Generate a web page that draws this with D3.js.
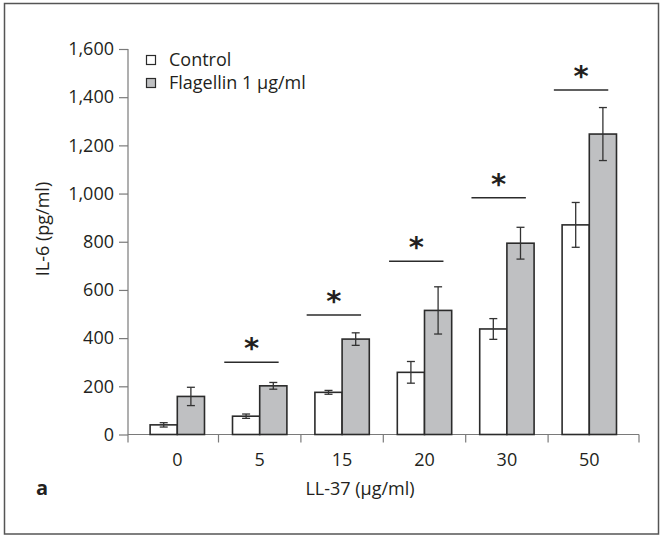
<!DOCTYPE html>
<html>
<head>
<meta charset="utf-8">
<script src="https://cdn.jsdelivr.net/npm/d3@7"></script>
<style>
  html, body { margin: 0; padding: 0; background: #fff; }
  svg { display: block; }
  text { font-family: "Open Sans", sans-serif; fill: #231f20; }
</style>
</head>
<body>
<svg id="chart" width="661" height="536"></svg>
<script>
// LL-37 concentrations (µg/ml) on the x axis
const categories = ["0", "5", "15", "20", "30", "50"];
const seriesNames = ["Control", "Flagellin 1 µg/ml"];

// IL-6 (pg/ml), means and error half-widths
const controlValues = [40, 76, 175, 258, 438, 870];
const controlErrors = [9, 9, 8, 45, 43, 93];
const flagellinValues = [158, 202, 396, 515, 794, 1247];
const flagellinErrors = [38, 14, 26, 98, 66, 110];

// significance markers: category and bracket height (pg/ml)
const sigCategories = ["5", "15", "20", "30", "50"];
const sigLevels = [300, 496, 719, 983, 1430];

const yTicks = [0, 200, 400, 600, 800, 1000, 1200, 1400, 1600];

const svg = d3.select("#chart");
const fontSize = "18px";

// outer frame
svg.append("rect")
  .attr("x", 4.5).attr("y", 3.5)
  .attr("width", 654).attr("height", 530.5)
  .attr("fill", "none").attr("stroke", "#555").attr("stroke-width", 1.5);

const y = d3.scaleLinear().domain([0, 1600]).range([434.5, 49]);
const x = d3.scaleBand().domain(categories).range([136.1, 630.5]).padding(0);
const bw = x.bandwidth();
const xs = d3.scaleBand().domain(seriesNames).range([bw * 0.17, bw * 0.83]).padding(0);

const axisColor = "#7a7a7a";

// y axis
const gy = svg.append("g").attr("transform", "translate(128,0)");
gy.call(d3.axisLeft(y).tickValues(yTicks).tickSize(9).tickSizeOuter(0).tickPadding(5)
  .tickFormat(d3.format(",")));
gy.select(".domain").remove();
gy.selectAll(".tick line").attr("stroke", axisColor).attr("stroke-width", 1.2);
gy.selectAll(".tick text").style("font-size", fontSize).attr("fill", "#231f20");
gy.append("line").attr("x1", 0).attr("x2", 0).attr("y1", y(1600)).attr("y2", y(0) + 8)
  .attr("stroke", axisColor).attr("stroke-width", 1.2);

// x axis: labels at group centres, ticks at group boundaries
const gx = svg.append("g").attr("transform", `translate(0,${y(0)})`);
gx.call(d3.axisBottom(x).tickSize(0).tickPadding(19));
gx.select(".domain").remove();
gx.selectAll(".tick text").style("font-size", fontSize).attr("fill", "#231f20");
gx.append("line").attr("x1", 128).attr("x2", 639).attr("y1", 0).attr("y2", 0)
  .attr("stroke", axisColor).attr("stroke-width", 1.2);
const boundaries = categories.slice(1).map(c => x(c)).concat([639]);
gx.selectAll(".bound").data(boundaries).join("line")
  .attr("x1", d => d).attr("x2", d => d).attr("y1", 0).attr("y2", 8)
  .attr("stroke", axisColor).attr("stroke-width", 1.2);

// bars
const rows = categories.map((c, i) => ({
  cat: c,
  items: [
    { s: seriesNames[0], v: controlValues[i], e: controlErrors[i], fill: "#ffffff" },
    { s: seriesNames[1], v: flagellinValues[i], e: flagellinErrors[i], fill: "#bfc0c2" }
  ]
}));

const groups = svg.append("g").selectAll("g").data(rows).join("g")
  .attr("transform", d => `translate(${x(d.cat)},0)`);

groups.selectAll("rect").data(d => d.items).join("rect")
  .attr("x", d => xs(d.s))
  .attr("y", d => y(d.v))
  .attr("width", xs.bandwidth())
  .attr("height", d => y(0) - y(d.v))
  .attr("fill", d => d.fill)
  .attr("stroke", "#2b2b2b").attr("stroke-width", 1.6);

// error bars
const cap = 4;
const eb = groups.selectAll(".err").data(d => d.items).join("g").attr("class", "err")
  .attr("transform", d => `translate(${xs(d.s) + xs.bandwidth() / 2},0)`);
eb.append("line").attr("x1", 0).attr("x2", 0)
  .attr("y1", d => y(d.v + d.e)).attr("y2", d => y(d.v - d.e));
eb.append("line").attr("x1", -cap).attr("x2", cap)
  .attr("y1", d => y(d.v + d.e)).attr("y2", d => y(d.v + d.e));
eb.append("line").attr("x1", -cap).attr("x2", cap)
  .attr("y1", d => y(d.v - d.e)).attr("y2", d => y(d.v - d.e));
eb.selectAll("line").attr("stroke", "#333").attr("stroke-width", 1.3);

// significance brackets with asterisks
const sig = sigCategories.map((c, i) => ({ cat: c, level: sigLevels[i] }));
const sigShift = -0.1 * bw;   // markers sit slightly left of the group centre
const halfLine = 27.2;
const sg = svg.append("g").selectAll("g").data(sig).join("g")
  .attr("transform", d => `translate(${x(d.cat) + bw / 2 + sigShift},${y(d.level)})`);
sg.append("line").attr("x1", -halfLine).attr("x2", halfLine).attr("y1", 0).attr("y2", 0)
  .attr("stroke", "#2b2b2b").attr("stroke-width", 1.5);
sg.append("text").text("*")
  .attr("text-anchor", "middle").attr("y", 0).attr("dy", -4)
  .style("font-family", "'DejaVu Sans', sans-serif")
  .style("font-size", "29px").style("font-weight", "bold").attr("fill", "#231f20");

// legend
const legend = svg.append("g").attr("transform", "translate(146,51)");
const li = legend.selectAll("g").data([
  { name: seriesNames[0], fill: "#ffffff" },
  { name: seriesNames[1], fill: "#bfc0c2" }
]).join("g").attr("transform", (d, i) => `translate(0,${i * 23})`);
li.append("rect").attr("x", 0.5).attr("y", 4.5).attr("width", 9).attr("height", 9)
  .attr("fill", d => d.fill).attr("stroke", "#2b2b2b").attr("stroke-width", 1.2);
li.append("text").attr("x", 23).attr("y", 9).attr("dy", "0.35em")
  .style("font-size", fontSize).text(d => d.name);

// axis titles
svg.append("text").attr("transform", "translate(43,229) rotate(-90)")
  .attr("text-anchor", "middle").attr("dy", "0.35em")
  .style("font-size", fontSize).text("IL-6 (pg/ml)");
svg.append("text").attr("x", 360).attr("y", 495).attr("text-anchor", "middle")
  .style("font-size", fontSize).text("LL-37 (µg/ml)");
svg.append("text").attr("x", 36).attr("y", 495)
  .style("font-size", "20px").style("font-weight", "bold").text("a");
</script>
</body>
</html>
